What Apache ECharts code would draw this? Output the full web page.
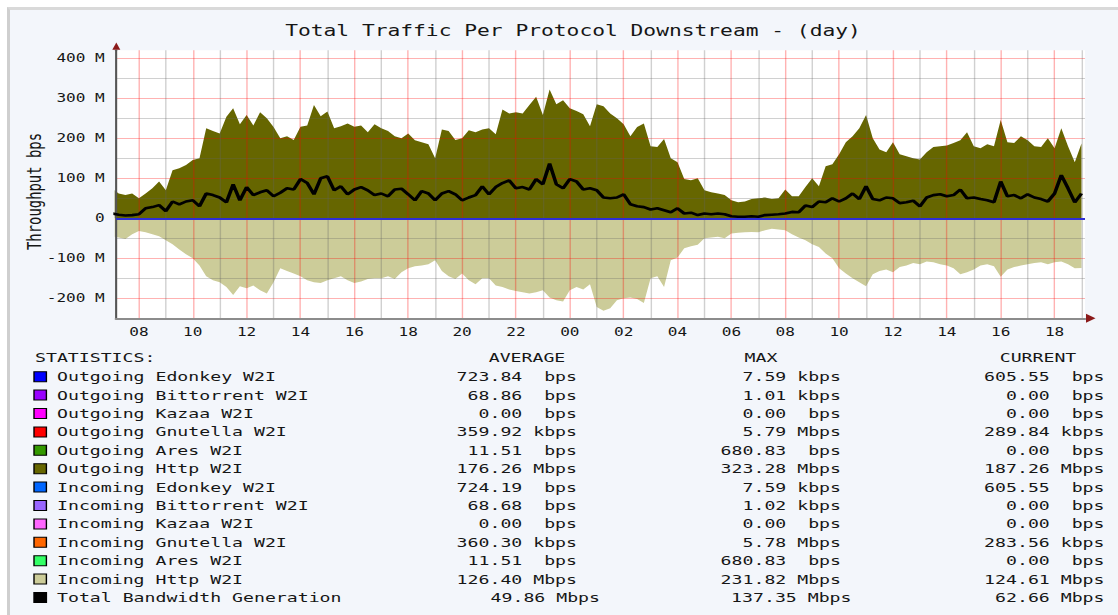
<!DOCTYPE html>
<html><head><meta charset="utf-8">
<script src="https://cdn.jsdelivr.net/npm/echarts@6/dist/echarts.min.js"></script>
<style>
html,body{margin:0;padding:0;background:#fff;width:1118px;height:615px;overflow:hidden}
#frame{position:absolute;left:7px;top:7px;width:1111px;height:608px;box-sizing:border-box;border-left:3px solid #cfcfcf;border-top:3px solid #d9d9d9;background:#f3f6fb}
#chart{position:absolute;left:0;top:0;width:799px;height:615px;transform:scaleX(1.399249);transform-origin:0 0}
#chart svg text{white-space:pre}
</style></head><body>
<div id="frame"></div><div id="chart"></div>
<script>
// ---- data (Mbps), one sample every 15 min starting 07:00 (hours counted from day-1 midnight) ----
const T_START = 7.0, T_STEP = 0.25;
const outgoingHttp = [75, 62, 58, 62, 50, 62, 75, 92, 70, 120, 125, 133, 146, 150, 225, 218, 212, 254, 275, 235, 258, 232, 265, 250, 228, 200, 205, 196, 229, 232, 283, 255, 267, 225, 230, 237, 229,
 232, 215, 235, 225, 218, 205, 200, 212, 195, 190, 185, 150, 222, 218, 196, 200, 220, 215, 222, 225, 210, 272, 262, 265, 262, 283, 304, 258, 322, 285, 295, 275, 268, 260, 230, 285, 280, 262, 250, 235, 205, 228, 237, 180, 178, 198, 150, 140, 98, 95, 100, 70, 65, 62, 58, 45, 40, 42, 48, 50,
 52, 48, 50, 72, 55, 55, 78, 100, 80, 130, 135, 160, 190, 205, 225, 258, 200, 172, 165, 190, 160, 155, 150, 147, 165, 178, 180, 182, 188, 195, 215, 180, 175, 185, 180, 246, 190, 188, 205, 195, 180, 178, 200, 175, 225, 180, 140, 187];
const incomingHttp = [-45, -48, -52, -40, -32, -35, -40, -45, -55, -65, -78, -90, -100, -118, -145, -155, -160, -172, -192, -170, -175, -168, -180, -188, -160, -125, -132, -138, -145, -155, -160, -162, -155, -150, -145, -155, -162,
 -158, -152, -150, -150, -145, -152, -135, -125, -120, -118, -115, -105, -132, -145, -152, -138, -155, -165, -150, -150, -168, -172, -178, -182, -185, -188, -185, -180, -198, -205, -208, -180, -172, -178, -165, -222, -231, -225, -205, -200, -198, -202, -212, -150, -145, -172, -105, -98, -75, -70, -66, -50, -48, -46, -50, -38, -36, -35, -34, -35,
 -30, -26, -28, -30, -40, -48, -55, -65, -72, -88, -100, -125, -138, -150, -160, -170, -140, -132, -128, -135, -122, -118, -112, -115, -108, -110, -115, -118, -125, -140, -135, -128, -118, -115, -120, -146, -128, -122, -118, -115, -112, -110, -115, -110, -108, -115, -125, -124];
const totalBandwidth = [12, 9, 7, 8, 10, 25, 28, 33, 18, 42, 35, 42, 45, 30, 62, 58, 52, 40, 85, 45, 78, 58, 65, 70, 55, 64, 75, 72, 98, 88, 60, 100, 105, 70, 80, 60, 72,
 78, 70, 58, 62, 55, 72, 74, 60, 45, 68, 62, 45, 62, 68, 60, 45, 52, 58, 80, 60, 78, 88, 95, 75, 78, 72, 98, 85, 137, 85, 75, 98, 92, 72, 75, 70, 52, 50, 52, 60, 35, 30, 28, 22, 25, 20, 15, 25, 12, 14, 8, 12, 10, 12, 10, 5, 4, 4, 5, 4,
 8, 9, 10, 12, 16, 15, 32, 28, 42, 40, 50, 42, 50, 62, 48, 80, 48, 45, 52, 50, 38, 40, 44, 30, 52, 58, 60, 55, 58, 72, 50, 52, 48, 45, 40, 92, 55, 58, 50, 60, 52, 48, 42, 62, 108, 75, 40, 62];
const xMajorHours = [8, 10, 12, 14, 16, 18, 20, 22, 24, 26, 28, 30, 32, 34, 36, 38, 40, 42];
const xMinorHours = [9, 11, 13, 15, 17, 19, 21, 23, 25, 27, 29, 31, 33, 35, 37, 39, 41, 43];
const titleText = 'Total Traffic Per Protocol Downstream - (day)';
const yName = 'Throughput bps';
const statHeaders = ['STATISTICS:', 'AVERAGE', 'MAX', 'CURRENT'];
const statNames = ['Outgoing Edonkey W2I', 'Outgoing Bittorrent W2I', 'Outgoing Kazaa W2I', 'Outgoing Gnutella W2I', 'Outgoing Ares W2I', 'Outgoing Http W2I',
  'Incoming Edonkey W2I', 'Incoming Bittorrent W2I', 'Incoming Kazaa W2I', 'Incoming Gnutella W2I', 'Incoming Ares W2I', 'Incoming Http W2I', 'Total Bandwidth Generation'];
const statColors = ['#0000ff', '#9900ff', '#ff00ff', '#ff0000', '#339900', '#666600', '#0066ff', '#9966ff', '#ff66ff', '#ff6600', '#33ff66', '#cccc99', '#000000'];
const statAvg = ['723.84  bps', '68.86  bps', '0.00  bps', '359.92 kbps', '11.51  bps', '176.26 Mbps', '724.19  bps', '68.68  bps', '0.00  bps', '360.30 kbps', '11.51  bps', '126.40 Mbps', '49.86 Mbps'];
const statMax = ['7.59 kbps', '1.01 kbps', '0.00  bps', '5.79 Mbps', '680.83  bps', '323.28 Mbps', '7.59 kbps', '1.02 kbps', '0.00  bps', '5.78 Mbps', '680.83  bps', '231.82 Mbps', '137.35 Mbps'];
const statCur = ['605.55  bps', '0.00  bps', '0.00  bps', '289.84 kbps', '0.00  bps', '187.26 Mbps', '605.55  bps', '0.00  bps', '0.00  bps', '283.56 kbps', '0.00  bps', '124.61 Mbps', '62.66 Mbps'];

// ---- layout ----
const S = 1118 / 799;
const X = v => v / S;           // page x -> chart x (chart is stretched by S)
const FONT = '"DejaVu Sans Mono", monospace';
const TXT = '#161616';
const pair = arr => arr.map((v, i) => [T_START + i * T_STEP, v]);

const rowY = i => 376.7 + 18.4 * i;
const graphic = [];
graphic.push({ type: 'text', x: X(34), y: 191.5, rotation: Math.PI / 2,
  style: { text: yName, fill: TXT, fontFamily: FONT, fontSize: 13.9, align: 'center', verticalAlign: 'middle' } });
graphic.push({ type: 'text', x: X(35), y: 357, style: { text: statHeaders[0], fill: TXT, fontFamily: FONT, fontSize: 13, align: 'left', verticalAlign: 'middle' } });
graphic.push({ type: 'text', x: X(527), y: 357, style: { text: statHeaders[1], fill: TXT, fontFamily: FONT, fontSize: 13, align: 'center', verticalAlign: 'middle' } });
graphic.push({ type: 'text', x: X(761), y: 357, style: { text: statHeaders[2], fill: TXT, fontFamily: FONT, fontSize: 13, align: 'center', verticalAlign: 'middle' } });
graphic.push({ type: 'text', x: X(1038), y: 357, style: { text: statHeaders[3], fill: TXT, fontFamily: FONT, fontSize: 13, align: 'center', verticalAlign: 'middle' } });
statNames.forEach((name, i) => {
  const y = rowY(i);
  const last = i === statNames.length - 1;
  graphic.push({ type: 'rect', shape: { x: X(34), y: y - 5, width: X(12.4), height: 10 },
    style: { fill: statColors[i], stroke: '#000', lineWidth: 1 } });
  graphic.push({ type: 'text', x: X(57), y, style: { text: name, fill: TXT, fontFamily: FONT, fontSize: 13, align: 'left', verticalAlign: 'middle' } });
  graphic.push({ type: 'text', x: X(last ? 600 : 577), y, style: { text: statAvg[i], fill: TXT, fontFamily: FONT, fontSize: 13, align: 'right', verticalAlign: 'middle' } });
  graphic.push({ type: 'text', x: X(last ? 851.5 : 841), y, style: { text: statMax[i], fill: TXT, fontFamily: FONT, fontSize: 13, align: 'right', verticalAlign: 'middle' } });
  graphic.push({ type: 'text', x: X(1104.5), y, style: { text: statCur[i], fill: TXT, fontFamily: FONT, fontSize: 13, align: 'right', verticalAlign: 'middle' } });
});
// axis arrows
graphic.push({ type: 'polygon', z: 20, shape: { points: [[X(112.3), 49.8], [X(116.3), 42.5], [X(120.3), 49.8]] }, style: { fill: '#8b1a1a' } });
graphic.push({ type: 'polygon', z: 20, shape: { points: [[X(1086), 313.8], [X(1095.5), 318.3], [X(1086), 322.8]] }, style: { fill: '#8b1a1a' } });

const RED = 'rgba(255,0,0,0.3)';
const GRAY = 'rgba(100,100,100,0.3)';
const option = {
  animation: false,
  title: { text: titleText, left: X(566), top: 18, textAlign: 'center',
    textStyle: { fontFamily: FONT, fontSize: 15.2, fontWeight: 'normal', color: TXT } },
  grid: { left: X(116), right: 799 - X(1085), top: 50.3, bottom: 615 - 318.3, show: true,
    backgroundColor: '#ffffff', borderWidth: 0, containLabel: false, outerBoundsMode: 'none' },
  xAxis: [
    { type: 'value', min: 7.15, max: 43.13, z: 3,
      axisLine: { show: true, onZero: false, lineStyle: { color: '#8c8c8c', width: 2 } },
      axisTick: { show: false, customValues: xMajorHours },
      axisLabel: { customValues: xMajorHours, formatter: v => String(v % 24).padStart(2, '0'),
        fontFamily: FONT, fontSize: 11.5, color: TXT, margin: 8 },
      splitLine: { show: true, lineStyle: { color: RED, width: 1 } } },
    { type: 'value', min: 7.15, max: 43.13, position: 'top', z: 3,
      axisLine: { show: false, onZero: false },
      axisTick: { show: false, customValues: xMinorHours },
      axisLabel: { show: false, customValues: xMinorHours },
      splitLine: { show: true, lineStyle: { color: GRAY, width: 1 } } }
  ],
  yAxis: { type: 'value', min: -250, max: 420, interval: 50, z: 3,
    axisLine: { show: true, onZero: false, lineStyle: { color: '#555555', width: 1.5 } },
    axisTick: { show: false },
    axisLabel: { formatter: v => v === 0 ? '0' : (v % 100 === 0 ? v + ' M' : ''),
      fontFamily: FONT, fontSize: 11.5, color: TXT, margin: 8 },
    splitLine: { show: true, showMaxLine: false, lineStyle: { color: [GRAY, RED], width: 1 } } },
  series: [
    { name: 'Outgoing Http W2I', type: 'line', xAxisIndex: 0, data: pair(outgoingHttp), symbol: 'none', z: 2, silent: true,
      lineStyle: { width: 0 }, areaStyle: { color: '#666600', opacity: 1 } },
    { name: 'Incoming Http W2I', type: 'line', xAxisIndex: 0, data: pair(incomingHttp), symbol: 'none', z: 2, silent: true,
      lineStyle: { width: 0 }, areaStyle: { color: '#cccc99', opacity: 1 } },
    { name: 'Total Bandwidth Generation', type: 'line', xAxisIndex: 0, data: pair(totalBandwidth), symbol: 'none', z: 4, silent: true,
      lineStyle: { color: '#000000', width: 2.6 },
      markLine: { silent: true, symbol: 'none', label: { show: false },
        lineStyle: { color: '#2e2ed2', width: 1.8, type: 'solid' }, data: [{ yAxis: 0 }] } }
  ],
  graphic: graphic
};
const chart = echarts.init(document.getElementById('chart'), null, { renderer: 'svg' });
chart.setOption(option);
</script></body></html>
